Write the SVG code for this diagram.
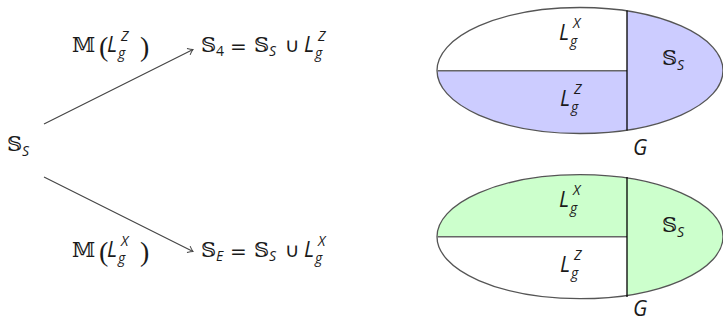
<svg xmlns="http://www.w3.org/2000/svg" width="723" height="322" viewBox="0 0 723 322">
<style>
text{fill:#1a1a1a}
.bb{font-family:"DejaVu Serif","DejaVu Sans",serif;font-size:21px}
.it{font-family:"Open Sans","DejaVu Sans",sans-serif;font-style:italic;font-size:21px}
.sm{font-family:"Open Sans","DejaVu Sans",sans-serif;font-style:italic;font-size:14px}
.smu{font-family:"Open Sans","DejaVu Sans",sans-serif;font-size:14px}
.op{font-family:"DejaVu Sans",sans-serif;font-size:20px}
.par{font-family:"Liberation Serif",serif;font-size:28px}
.edge{stroke:#444;stroke-width:1.1;fill:none}
.ell{fill:none;stroke:#555;stroke-width:1.3}
.hl{stroke:#666;stroke-width:1.4}
.vl{stroke:#000;stroke-width:1.3}
.blue{fill:#ccccff}
.green{fill:#ccffcc}
</style>
<defs>
<marker id="arr" viewBox="-6 -5 8 10" markerWidth="8" markerHeight="10" refX="0" refY="0" orient="auto" markerUnits="userSpaceOnUse">
<path d="M-5,-3.5 Q-2,-1 0,0 Q-2,1 -5,3.5" fill="none" stroke="#444" stroke-width="1"/>
</marker>
<clipPath id="c1"><ellipse cx="580" cy="70.5" rx="143" ry="63"/></clipPath>
<clipPath id="c2"><ellipse cx="580" cy="236.7" rx="143" ry="62"/></clipPath>
</defs>

<g id="connectors">
<g id="edge-z">
<line class="edge" x1="44" y1="124" x2="193" y2="49.5" marker-end="url(#arr)"/>
<text class="bb" x="72" y="52">𝕄</text>
<text class="par" x="99" y="56">(</text>
<text class="it" x="107" y="52">L</text>
<text class="sm" x="121" y="41">Z</text>
<text class="sm" x="118" y="58">g</text>
<text class="par" x="140" y="56">)</text>
</g>
<g id="edge-x">
<line class="edge" x1="44" y1="177" x2="193" y2="251.5" marker-end="url(#arr)"/>
<text class="bb" x="72" y="257">𝕄</text>
<text class="par" x="99" y="261">(</text>
<text class="it" x="107" y="257">L</text>
<text class="sm" x="121" y="246">X</text>
<text class="sm" x="118" y="263">g</text>
<text class="par" x="140" y="261">)</text>
</g>
</g>

<g id="node-ss">
<text class="bb" x="7" y="151">𝕊</text>
<text class="sm" x="22" y="156">S</text>
</g>

<g id="node-s4">
<text class="bb" x="201" y="52">𝕊</text>
<text class="smu" x="216" y="56">4</text>
<text class="op" x="230" y="53">=</text>
<text class="bb" x="254" y="52">𝕊</text>
<text class="sm" x="269" y="56">S</text>
<text class="op" x="285" y="52">∪</text>
<text class="it" x="304" y="52">L</text>
<text class="sm" x="318" y="41">Z</text>
<text class="sm" x="315" y="58">g</text>
</g>

<g id="node-se">
<text class="bb" x="201" y="257">𝕊</text>
<text class="sm" x="216" y="261">E</text>
<text class="op" x="230" y="258">=</text>
<text class="bb" x="254" y="257">𝕊</text>
<text class="sm" x="269" y="261">S</text>
<text class="op" x="285" y="257">∪</text>
<text class="it" x="304" y="257">L</text>
<text class="sm" x="318" y="246">X</text>
<text class="sm" x="315" y="263">g</text>
</g>

<g id="graph-top">
<g clip-path="url(#c1)">
<rect class="blue" x="627" y="0" width="100" height="140"/>
<rect class="blue" x="430" y="70.7" width="197" height="70"/>
</g>
<ellipse class="ell" cx="580" cy="70.5" rx="143" ry="63"/>
<line class="hl" x1="437.5" y1="70.7" x2="627" y2="70.7"/>
<line class="vl" x1="627" y1="10.5" x2="627" y2="130.5"/>
<text class="it" x="559" y="40">L</text>
<text class="sm" x="573" y="28">X</text>
<text class="sm" x="570" y="46">g</text>
<text class="it" x="560" y="106">L</text>
<text class="sm" x="574" y="94">Z</text>
<text class="sm" x="571" y="112">g</text>
<text class="bb" x="662" y="65">𝕊</text>
<text class="sm" x="677" y="70">S</text>
<text class="it" x="633" y="155">G</text>
</g>

<g id="graph-bottom">
<g clip-path="url(#c2)">
<rect class="green" x="627" y="170" width="100" height="140"/>
<rect class="green" x="430" y="170" width="197" height="66.7"/>
</g>
<ellipse class="ell" cx="580" cy="236.7" rx="143" ry="62"/>
<line class="hl" x1="437.5" y1="236.7" x2="627" y2="236.7"/>
<line class="vl" x1="627" y1="177" x2="627" y2="297"/>
<text class="it" x="559" y="207">L</text>
<text class="sm" x="573" y="195">X</text>
<text class="sm" x="570" y="213">g</text>
<text class="it" x="560" y="272">L</text>
<text class="sm" x="574" y="260">Z</text>
<text class="sm" x="571" y="278">g</text>
<text class="bb" x="662" y="232">𝕊</text>
<text class="sm" x="677" y="237">S</text>
<text class="it" x="633" y="316">G</text>
</g>
</svg>
